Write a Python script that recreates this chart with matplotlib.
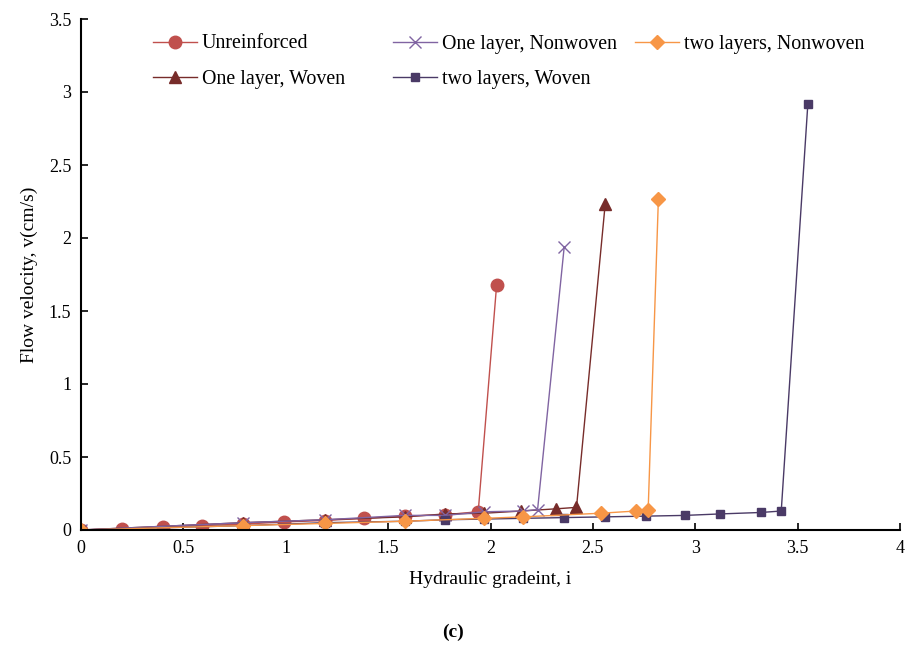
import matplotlib
matplotlib.use("Agg")
from matplotlib import pyplot as plt

plt.rcParams['font.family'] = ['Liberation Serif', 'DejaVu Serif']

# data
x_unr = [0, 0.2, 0.4, 0.59, 0.79, 0.99, 1.19, 1.38, 1.58, 1.78, 1.94, 2.03]
v_unr = [0, 0.01, 0.02, 0.03, 0.04, 0.055, 0.065, 0.08, 0.095, 0.105, 0.125, 1.68]

x_1nw = [0, 0.79, 1.19, 1.58, 1.78, 1.97, 2.16, 2.23, 2.36]
v_1nw = [0, 0.05, 0.07, 0.1, 0.1, 0.125, 0.13, 0.14, 1.94]

x_2nw = [0, 0.79, 1.19, 1.58, 1.97, 2.16, 2.54, 2.71, 2.77, 2.82]
v_2nw = [0, 0.03, 0.045, 0.06, 0.08, 0.09, 0.115, 0.13, 0.135, 2.27]

x_1w = [0, 0.79, 1.19, 1.58, 1.78, 1.97, 2.15, 2.32, 2.42, 2.56]
v_1w = [0, 0.05, 0.07, 0.09, 0.11, 0.115, 0.13, 0.145, 0.155, 2.23]

x_2w = [0, 0.79, 1.19, 1.58, 1.78, 1.97, 2.16, 2.36, 2.56, 2.76, 2.95, 3.12, 3.32, 3.42, 3.55]
v_2w = [0, 0.03, 0.05, 0.06, 0.07, 0.075, 0.08, 0.085, 0.09, 0.095, 0.1, 0.11, 0.12, 0.13, 2.92]

fig = plt.figure(figsize=(9.06, 6.49), dpi=100)
ax = fig.add_axes([81/906, 1-530/649, (900-81)/906, (530-19)/649])

lw = 1.0
h_unr, = ax.plot(x_unr, v_unr, color='#C0504D', marker='o', ms=9, lw=lw, label='Unreinforced')
h_1w, = ax.plot(x_1w, v_1w, color='#772C2A', marker='^', ms=9, lw=lw, label='One layer, Woven')
h_1nw, = ax.plot(x_1nw, v_1nw, color='#8064A2', marker='x', ms=8, mew=1.0, lw=lw, label='One layer, Nonwoven')
h_2w, = ax.plot(x_2w, v_2w, color='#4A3A66', marker='s', ms=6, lw=lw, label='two layers, Woven')
h_2nw, = ax.plot(x_2nw, v_2nw, color='#F79646', marker='D', ms=7, lw=lw, label='two layers, Nonwoven')

ax.set_xlim(0, 4)
ax.set_ylim(0, 3.5)
ax.set_xticks([0, 0.5, 1, 1.5, 2, 2.5, 3, 3.5, 4])
ax.set_xticklabels(['0', '0.5', '1', '1.5', '2', '2.5', '3', '3.5', '4'])
ax.set_yticks([0, 0.5, 1, 1.5, 2, 2.5, 3, 3.5])
ax.set_yticklabels(['0', '0.5', '1', '1.5', '2', '2.5', '3', '3.5'])
ax.tick_params(direction='in', length=5, width=1.2, labelsize=13, pad=7)
for s in ['top', 'right']:
    ax.spines[s].set_visible(False)
for s in ['left', 'bottom']:
    ax.spines[s].set_linewidth(1.5)

ax.set_xlabel('Hydraulic gradeint, i', fontsize=14, labelpad=10)
ax.set_ylabel('Flow velocity, v(cm/s)', fontsize=14, labelpad=8)

# legend as three separate columns
cols = [([h_unr, h_1w], 153), ([h_1nw, h_2w], 393), ([h_2nw], 635)]
for hs, xpx in cols:
    leg = fig.legend(handles=hs, loc='upper left', bbox_to_anchor=(xpx/906, 1-34.5/649),
                     bbox_transform=fig.transFigure, frameon=False, fontsize=14.4,
                     handlelength=2.2, labelspacing=0.83, handletextpad=0.25, borderpad=0,
                     borderaxespad=0)

fig.text(0.5, 1-632/649, '(c)', ha='center', va='center', fontsize=14, fontweight='bold')

fig.savefig('out.png', dpi=100)
